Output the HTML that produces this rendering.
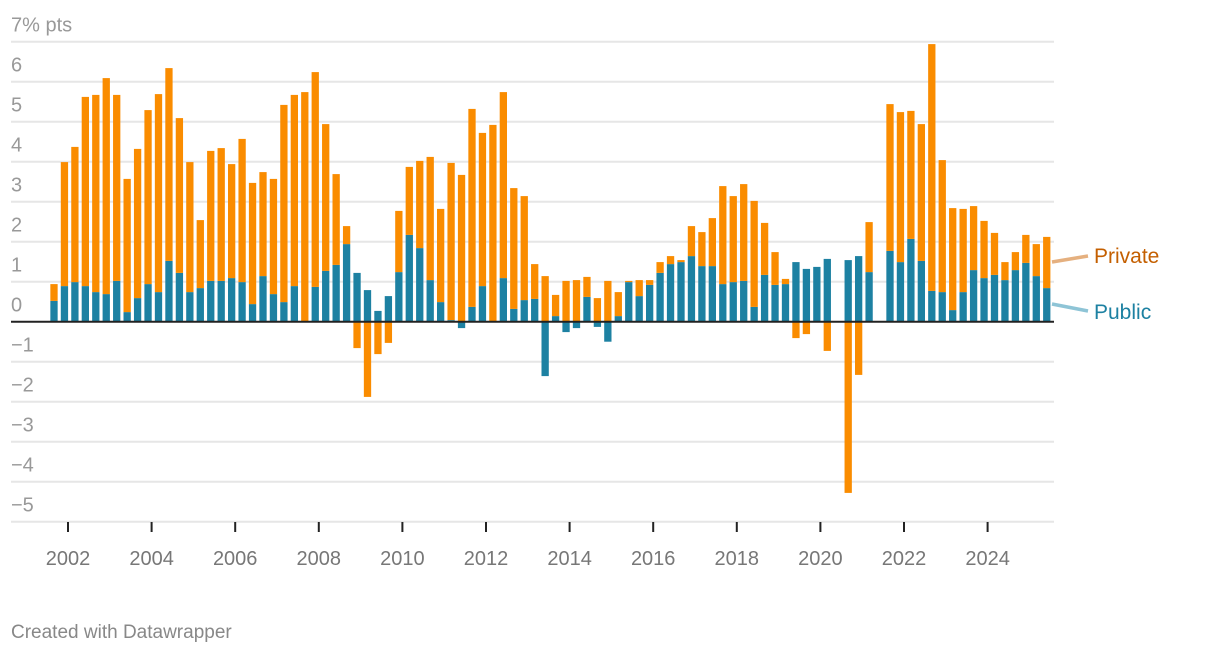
<!DOCTYPE html>
<html><head><meta charset="utf-8"><style>
html,body{margin:0;padding:0;background:#fff;width:1220px;height:654px;overflow:hidden}
svg{font-family:"Liberation Sans",Roboto,sans-serif}
</style></head><body>
<svg id="chart" width="1220" height="654" viewBox="0 0 1220 654" xmlns="http://www.w3.org/2000/svg">
<g id="grid"></g>
<g id="ylabels"></g>
<g id="bars"></g>
<line x1="11" x2="1054" y1="321.7" y2="321.7" stroke="#222" stroke-width="2"/>
<g id="xaxis"></g>
<line x1="1052" y1="262" x2="1088" y2="256" stroke="#e5b07f" stroke-width="3.5"/>
<text x="1094" y="263" font-size="21" fill="#c45f00">Private</text>
<line x1="1052" y1="304" x2="1088" y2="311" stroke="#8ec4d6" stroke-width="3.5"/>
<text x="1094" y="319" font-size="21" fill="#1d81a2">Public</text>
<text x="11" y="638" font-size="19" fill="#888">Created with Datawrapper</text>
</svg>
<script>
const publicVals=[0.52,0.89,0.99,0.89,0.74,0.69,1.02,0.24,0.59,0.94,0.74,1.52,1.22,0.74,0.84,1.02,1.02,1.09,0.99,0.44,1.14,0.69,0.49,0.89,0,0.87,1.27,1.42,1.94,1.22,0.79,0.27,0.64,1.24,2.17,1.84,1.04,0.49,0.04,-0.16,0.37,0.89,0,1.09,0.32,0.54,0.57,-1.36,0.14,-0.26,-0.16,0.62,-0.13,-0.5,0.14,0.99,0.64,0.92,1.22,1.44,1.49,1.64,1.39,1.39,0.94,0.99,1.02,0.37,1.17,0.92,0.94,1.49,1.32,1.37,1.57,0,1.54,1.64,1.24,0,1.77,1.49,2.07,1.52,0.77,0.74,0.29,0.74,1.29,1.09,1.17,1.04,1.29,1.47,1.14,0.84];
const privateVals=[0.42,3.10,3.38,4.73,4.93,5.40,4.65,3.33,3.73,4.35,4.95,4.82,3.87,3.25,1.70,3.25,3.32,2.85,3.58,3.03,2.60,2.88,4.93,4.78,5.74,5.37,3.67,2.27,0.45,-0.66,-1.88,-0.81,-0.53,1.53,1.70,2.18,3.08,2.33,3.93,3.67,4.95,3.83,4.92,4.65,3.02,2.60,0.87,1.14,0.53,1.02,1.04,0.50,0.59,1.02,0.60,0.03,0.40,0.12,0.27,0.20,0.05,0.75,0.85,1.20,2.45,2.15,2.42,2.65,1.30,0.82,0.13,-0.41,-0.31,0,-0.73,0,-4.28,-1.33,1.25,0,3.67,3.75,3.20,3.42,6.17,3.30,2.55,2.08,1.60,1.43,1.05,0.45,0.45,0.70,0.80,1.28];
const yTicks=[7,6,5,4,3,2,1,0,-1,-2,-3,-4,-5];
const yTickLabels=["7% pts","6","5","4","3","2","1","0","\u22121","\u22122","\u22123","\u22124","\u22125"];
const xTickYears=[2002,2004,2006,2008,2010,2012,2014,2016,2018,2020,2022,2024];
const startDate=2001.665;
const NS="http://www.w3.org/2000/svg";
function y(v){return 321.7-v*40;}
function x(t){return 68+(t-2002)*41.8;}
function mk(tag,attrs,parent){const e=document.createElementNS(NS,tag);for(const k in attrs)e.setAttribute(k,attrs[k]);parent.appendChild(e);return e;}
const grid=document.getElementById('grid'),yl=document.getElementById('ylabels'),bars=document.getElementById('bars'),xa=document.getElementById('xaxis');
yTicks.forEach((v,i)=>{
  if(v!==0){const l=mk('line',{x1:11,x2:1054,y1:y(v),y2:y(v),stroke:'#e6e6e6','stroke-width':2},grid);
  
  }
  const t=mk('text',{x:11,y:y(v)-10,'font-size':20,fill:'#999'},yl);
  
  
  t.textContent=yTickLabels[i];
});
const w=7.3;
publicVals.forEach((pub,i)=>{
  const cx=x(startDate+i*0.25);
  const priv=privateVals[i];
  if(pub!==0){
    const r=mk('rect',{x:cx-w/2,y:Math.min(y(0),y(pub)),width:w,height:Math.abs(y(pub)-y(0)),fill:'#1d81a2'},bars);
    
    
  }
  if(priv!==0){
    const base=(priv>=0)?Math.max(pub,0):Math.min(pub,0);
    const top=base+priv;
    const r=mk('rect',{x:cx-w/2,y:Math.min(y(base),y(top)),width:w,height:Math.abs(y(top)-y(base)),fill:'#fa8c00'},bars);
    
    
  }
});
xTickYears.forEach(yr=>{
  const tx=x(yr);
  const l=mk('line',{x1:tx,x2:tx,y1:522,y2:532,stroke:'#222','stroke-width':2},xa);
  
  
  const t=mk('text',{x:tx,y:565,'font-size':20,fill:'#777','text-anchor':'middle'},xa);
  
  
  t.textContent=yr;
});
</script>
</body></html>
